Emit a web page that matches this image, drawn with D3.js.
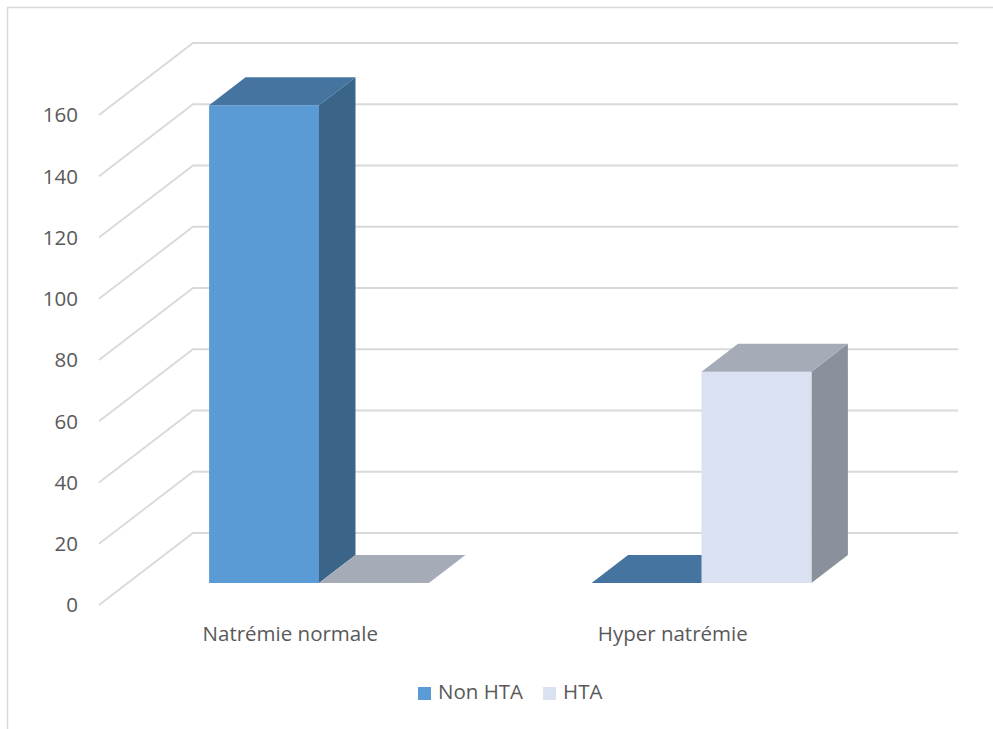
<!DOCTYPE html>
<html>
<head>
<meta charset="utf-8">
<script src="https://cdn.jsdelivr.net/npm/d3@7"></script>
<style>
body { margin: 0; background: #fff; }
text { font-family: 'Open Sans', sans-serif; fill: #595959; }
</style>
</head>
<body>
<script>
(function(){
'use strict';

var categories = ['Natrémie normale', 'Hyper natrémie'];
var series = ['Non HTA', 'HTA'];
var nonHta = [156, 0];
var hta = [0, 69];
var yTicks = [0, 20, 40, 60, 80, 100, 120, 140, 160];

var colors = {
	'Non HTA': {front: '#5b9bd5', top: '#44749f', side: '#3a6488'},
	'HTA': {front: '#dae1f0', top: '#a5acb8', side: '#8a919c'}
};

var width = 993;
var height = 729;

// back wall and depth of the 3d box
var backLeft = 193, backRight = 958;
var depthX = -94, depthY = 72;
var barFront = 0.694, barBack = 0.306;

var svg = d3.select('body').append('svg')
	.attr('width', width)
	.attr('height', height);

svg.append('rect')
	.attr('x', 7.5).attr('y', 7.5)
	.attr('width', 1000).attr('height', 1000)
	.attr('fill', 'none')
	.attr('stroke', '#d9d9d9')
	.attr('stroke-width', 1.5);

var y = d3.scaleLinear().domain([0, 160]).range([533, 43]);
var x0 = d3.scaleBand().domain(categories).range([backLeft, backRight]);
var x1 = d3.scaleBand().domain(series).range([0, x0.bandwidth()]).paddingInner(0).paddingOuter(0.74);

function pt(px, py, d){
	return [px + depthX * d, py + depthY * d];
}

// gridlines: side wall diagonal + back wall horizontal
var grid = svg.append('g');
yTicks.forEach(function(t){
	var f = pt(backLeft, y(t), 1);
	grid.append('polyline')
		.attr('points', [f, [backLeft, y(t)], [backRight, y(t)]].map(function(p){ return p.join(','); }).join(' '))
		.attr('fill', 'none')
		.attr('stroke', '#d9d9d9')
		.attr('stroke-width', 1.8);
	svg.append('text')
		.attr('x', f[0] - 21)
		.attr('y', f[1] + 2)
		.attr('text-anchor', 'end')
		.attr('dominant-baseline', 'middle')
		.attr('font-size', '20.5px')
		.text(t);
});

var rows = [];
categories.forEach(function(c, i){
	rows.push({cat: c, s: 'Non HTA', v: nonHta[i]});
	rows.push({cat: c, s: 'HTA', v: hta[i]});
});

function poly(points){
	return points.map(function(p){ return p.join(','); }).join(' ');
}

var bars = svg.append('g');
rows.forEach(function(d){
	var xl = x0(d.cat) + x1(d.s);
	var xr = xl + x1.bandwidth();
	var yt = y(d.v), yb = y(0);
	var c = colors[d.s];
	var g = bars.append('g');
	if(d.v > 0){
		// right side
		g.append('polygon')
			.attr('points', poly([pt(xr, yt, barFront), pt(xr, yt, barBack), pt(xr, yb, barBack), pt(xr, yb, barFront)]))
			.attr('fill', c.side);
		// front
		g.append('polygon')
			.attr('points', poly([pt(xl, yt, barFront), pt(xr, yt, barFront), pt(xr, yb, barFront), pt(xl, yb, barFront)]))
			.attr('fill', c.front);
	}
	// top
	g.append('polygon')
		.attr('points', poly([pt(xl, yt, barFront), pt(xr, yt, barFront), pt(xr, yt, barBack), pt(xl, yt, barBack)]))
		.attr('fill', c.top);
});

// category labels at the front plane
categories.forEach(function(c){
	var cx = x0(c) + x0.bandwidth() / 2 + depthX;
	svg.append('text')
		.attr('x', cx)
		.attr('y', 636)
		.attr('text-anchor', 'middle')
		.attr('dominant-baseline', 'middle')
		.attr('font-size', '20.5px')
		.text(c);
});

// legend
var legend = svg.append('g');
var lx = 418;
series.forEach(function(s){
	legend.append('rect')
		.attr('x', lx).attr('y', 687)
		.attr('width', 13).attr('height', 13)
		.attr('fill', colors[s].front);
	var t = legend.append('text')
		.attr('x', lx + 20)
		.attr('y', 694)
		.attr('dominant-baseline', 'middle')
		.attr('font-size', '20.5px')
		.text(s);
	lx += 20 + t.node().getComputedTextLength() + 20;
});

})();
</script>
</body>
</html>
